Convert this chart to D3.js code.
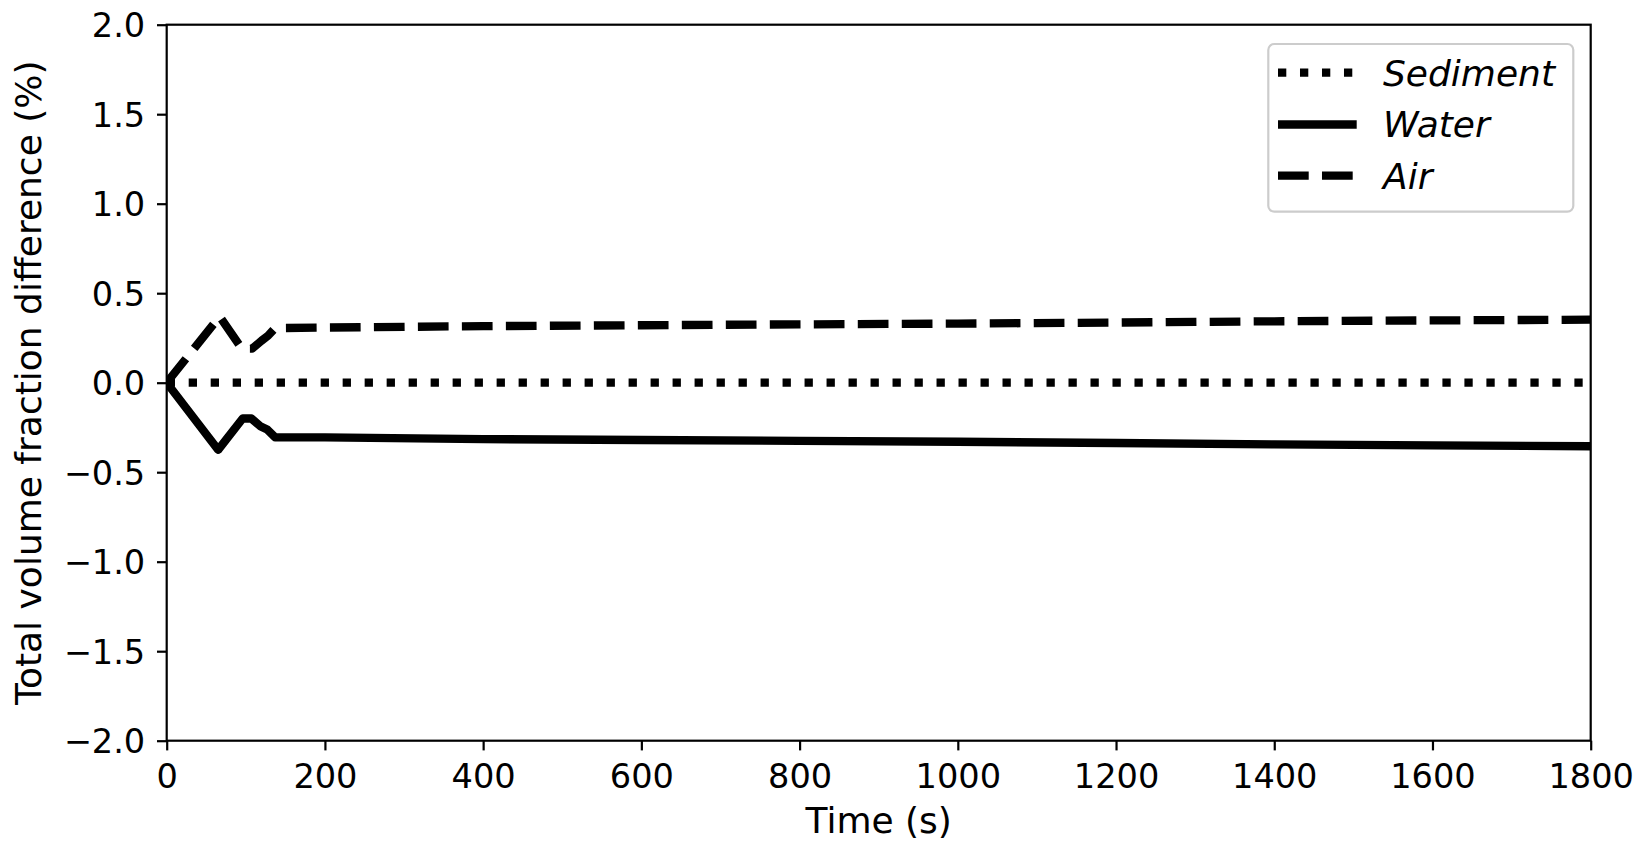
<!DOCTYPE html>
<html>
<head>
<meta charset="utf-8">
<script src="https://cdn.jsdelivr.net/npm/d3@7"></script>
<style>
  html, body { margin: 0; padding: 0; background: #fff; }
  svg { display: block; font-family: "DejaVu Sans", sans-serif; }
</style>
</head>
<body>
<svg id="chart" width="1649" height="852"></svg>
<script>
// ---- data ----
const xTicks = [0, 200, 400, 600, 800, 1000, 1200, 1400, 1600, 1800];
const yTicks = [-2.0, -1.5, -1.0, -0.5, 0.0, 0.5, 1.0, 1.5, 2.0];

const sedimentTime = [0, 1800];
const sedimentVal  = [0, 0];

const waterTime = [0, 65, 96, 107, 119, 127, 137, 200, 400, 600, 800, 1000, 1200, 1400, 1600, 1800];
const waterVal  = [0, -0.375, -0.20, -0.20, -0.245, -0.262, -0.305, -0.306, -0.315, -0.320, -0.325, -0.330, -0.337, -0.345, -0.350, -0.355];

const airTime = [0, 67, 95, 108, 120, 128, 137, 200, 400, 600, 800, 1000, 1200, 1400, 1600, 1800];
const airVal  = [0, 0.37, 0.19, 0.19, 0.235, 0.262, 0.305, 0.308, 0.316, 0.321, 0.326, 0.330, 0.336, 0.343, 0.348, 0.352];

const seriesNames = ["Sediment", "Water", "Air"];

// ---- layout ----
const svg = d3.select("#chart");
const L = 166.7, R = 1590.7, T = 24.7, B = 740.7;
const lw = 8.3;
const fsTick = 33.6;
const fsLabel = 36;

const x = d3.scaleLinear().domain([0, 1800]).range([L, R]);
const y = d3.scaleLinear().domain([-2, 2]).range([B, T]);

const dashFor = {
  Sediment: `${1 * lw},${1.65 * lw}`,
  Water: null,
  Air: `${3.7 * lw},${1.6 * lw}`
};

const series = [
  { name: "Sediment", t: sedimentTime, v: sedimentVal },
  { name: "Water", t: waterTime, v: waterVal },
  { name: "Air", t: airTime, v: airVal }
];

const line = d3.line().x(d => x(d[0])).y(d => y(d[1]));

svg.append("defs").append("clipPath").attr("id", "clip")
  .append("rect").attr("x", L).attr("y", T).attr("width", R - L).attr("height", B - T);

const plot = svg.append("g").attr("clip-path", "url(#clip)");
series.forEach(s => {
  const pts = s.t.map((t, i) => [t, s.v[i]]);
  plot.append("path")
    .attr("d", line(pts))
    .attr("fill", "none")
    .attr("stroke", "#000")
    .attr("stroke-width", lw)
    .attr("stroke-linejoin", "round")
    .attr("stroke-linecap", s.name === "Water" ? "square" : "butt")
    .attr("stroke-dasharray", dashFor[s.name]);
});

// ---- axes ----
const xAxis = d3.axisBottom(x).tickValues(xTicks).tickSize(9.7).tickPadding(8).tickFormat(d3.format("d"));
const yAxis = d3.axisLeft(y).tickValues(yTicks).tickSize(9.7).tickPadding(8)
  .tickFormat(d => d3.format(".1f")(d).replace("-", "\u2212"));

const gx = svg.append("g").attr("transform", `translate(0,${B})`).call(xAxis);
const gy = svg.append("g").attr("transform", `translate(${L},0)`).call(yAxis);

[gx, gy].forEach(g => {
  g.select(".domain").remove();
  g.selectAll(".tick line").attr("stroke", "#000").attr("stroke-width", 2.2);
  g.selectAll(".tick text").attr("fill", "#000").attr("font-size", fsTick)
    .attr("font-family", "DejaVu Sans, sans-serif");
});
gx.selectAll(".tick text").attr("y", 0).attr("dy", null).attr("transform", "translate(0,47.3)");
gy.selectAll(".tick text").attr("x", -21.5).attr("dy", "0.36em");

// frame
svg.append("rect").attr("x", L).attr("y", T).attr("width", R - L).attr("height", B - T)
  .attr("fill", "none").attr("stroke", "#000").attr("stroke-width", 2.2);

// axis titles
svg.append("text").attr("x", (L + R) / 2).attr("y", 833.3)
  .attr("text-anchor", "middle").attr("font-size", fsLabel).attr("fill", "#000")
  .text("Time (s)");
svg.append("text")
  .attr("transform", `translate(41,${(T + B) / 2}) rotate(-90)`)
  .attr("text-anchor", "middle").attr("font-size", fsLabel).attr("fill", "#000")
  .text("Total volume fraction difference (%)");

// ---- legend ----
const lg = svg.append("g");
lg.append("rect").attr("x", 1268.3).attr("y", 44).attr("width", 1573.3 - 1268.3).attr("height", 211.7 - 44)
  .attr("rx", 6).attr("ry", 6)
  .attr("fill", "#fff").attr("fill-opacity", 0.8)
  .attr("stroke", "#cccccc").attr("stroke-width", 2.2);
const rowY = [72.7, 124.5, 175.7];
seriesNames.forEach((name, i) => {
  lg.append("line")
    .attr("x1", 1278).attr("x2", 1356.7).attr("y1", rowY[i]).attr("y2", rowY[i])
    .attr("stroke", "#000").attr("stroke-width", lw)
    .attr("stroke-linecap", "butt")
    .attr("stroke-dasharray", dashFor[name]);
  lg.append("text").attr("x", 1383).attr("y", rowY[i] + 12.8)
    .attr("font-size", fsLabel).attr("font-style", "italic").attr("fill", "#000")
    .text(name);
});
</script>
</body>
</html>
